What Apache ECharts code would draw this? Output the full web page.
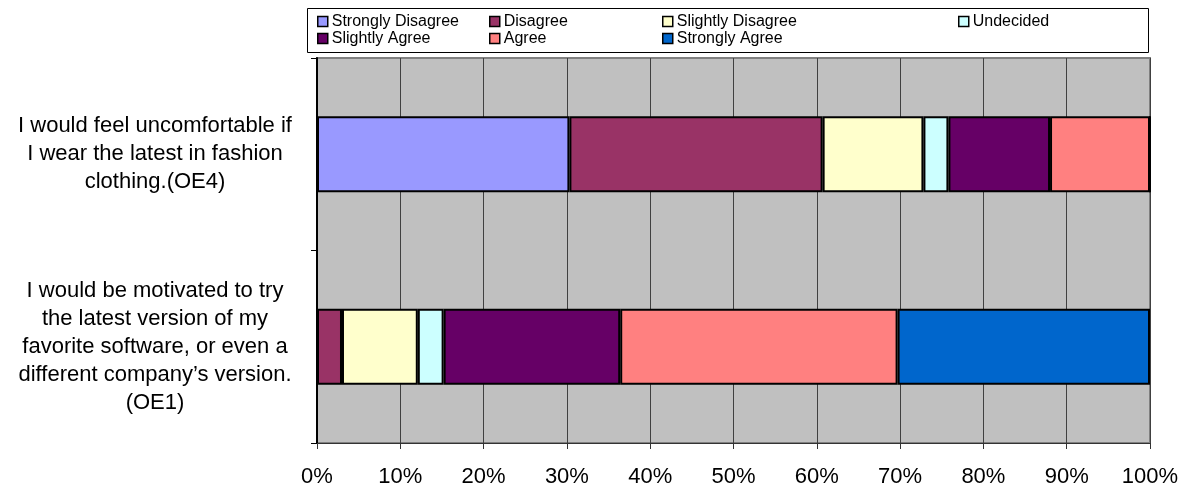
<!DOCTYPE html>
<html>
<head>
<meta charset="utf-8">
<script src="https://cdn.jsdelivr.net/npm/echarts@6/dist/echarts.min.js"></script>
<style>
  html, body { margin: 0; padding: 0; background: #fff; }
  #chart { width: 1196px; height: 489px; }
</style>
</head>
<body>
<div id="chart"></div>
<script>
// categories, bottom to top
const categories = [
  'I would be motivated to try\nthe latest version of my\nfavorite software, or even a\ndifferent company\u2019s version.\n(OE1)',
  'I would feel uncomfortable if\nI wear the latest in fashion\nclothing.(OE4)'
];
const seriesNames = ['Strongly Disagree', 'Disagree', 'Slightly Disagree', 'Undecided', 'Slightly Agree', 'Agree', 'Strongly Agree'];
const stronglyDisagree = [0, 30.3];
const disagree = [3.0, 30.4];
const slightlyDisagree = [9.1, 12.1];
const undecided = [3.1, 3.0];
const slightlyAgree = [21.2, 12.2];
const agree = [33.3, 12.0];
const stronglyAgree = [30.3, 0];
const xTicks = [0, 10, 20, 30, 40, 50, 60, 70, 80, 90, 100];

const colors = ['#9999FF', '#993366', '#FFFFCC', '#CCFFFF', '#660066', '#FF8080', '#0066CC'];
const values = [stronglyDisagree, disagree, slightlyDisagree, undecided, slightlyAgree, agree, stronglyAgree];
const font = 'Liberation Sans, Arial, sans-serif';

const chart = echarts.init(document.getElementById('chart'));

// legend columns as in the original (two rows)
const legendCols = [
  { left: 317, data: ['Strongly Disagree', 'Slightly Agree'] },
  { left: 489, data: ['Disagree', 'Agree'] },
  { left: 662, data: ['Slightly Disagree', 'Strongly Agree'] },
  { left: 958, data: ['Undecided'] }
];

chart.setOption({
  animation: false,
  textStyle: { fontFamily: font },
  graphic: [{
    type: 'rect',
    z: 0,
    shape: { x: 307.5, y: 8.5, width: 841, height: 44 },
    style: { fill: '#fff', stroke: '#000', lineWidth: 1 }
  }],
  legend: legendCols.map(c => ({
    orient: 'vertical',
    left: c.left,
    top: 13,
    z: 5,
    padding: 0,
    itemGap: 0,
    itemWidth: 10,
    itemHeight: 10,
    icon: 'rect',
    itemStyle: { borderColor: '#000', borderWidth: 1.5 },
    textStyle: { fontFamily: font, fontSize: 16, color: '#000', lineHeight: 17, padding: [0, 0, 0, -1] },
    data: c.data
  })),
  grid: {
    left: 317,
    right: 46,
    top: 58,
    bottom: 46,
    show: true,
    backgroundColor: '#C0C0C0',
    borderColor: '#808080',
    borderWidth: 2
  },
  xAxis: {
    type: 'value',
    min: 0,
    max: 100,
    interval: 10,
    axisLine: { show: true, lineStyle: { color: '#333', width: 1 } },
    axisTick: { show: true, length: 6, lineStyle: { color: '#333' } },
    axisLabel: {
      margin: 23,
      fontSize: 22,
      color: '#000',
      fontFamily: font,
      formatter: v => (xTicks.includes(v) ? v + '%' : '')
    },
    splitLine: { show: true, lineStyle: { color: '#404040', width: 1 } }
  },
  yAxis: {
    type: 'category',
    data: categories,
    axisLine: { show: true, lineStyle: { color: '#000', width: 2 } },
    axisTick: { show: true, length: 6, lineStyle: { color: '#000' } },
    axisLabel: {
      align: 'center',
      margin: 162,
      fontSize: 22,
      lineHeight: 28,
      color: '#000',
      fontFamily: font
    }
  },
  series: seriesNames.map((name, i) => ({
    name: name,
    type: 'bar',
    stack: 'total',
    barWidth: 76,
    itemStyle: { color: colors[i], borderColor: '#000', borderWidth: 2 },
    data: values[i]
  }))
});
</script>
</body>
</html>
